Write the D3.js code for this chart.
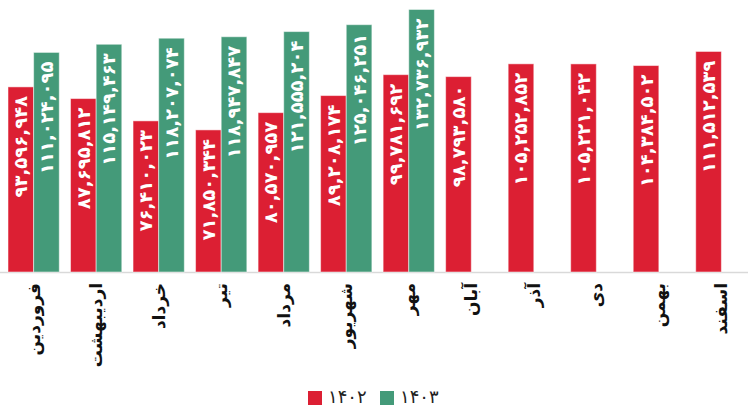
<!DOCTYPE html>
<html>
<head>
<meta charset="utf-8">
<script src="https://cdn.jsdelivr.net/npm/d3@7"></script>
<style>
  body { margin: 0; background: #fff; }
  svg { display: block; font-family: "DejaVu Sans", sans-serif; }
</style>
</head>
<body>
<div id="chart"></div>
<script>
// monthly values for two years (Persian calendar)
const months = ["فروردین", "اردیبهشت", "خرداد", "تیر", "مرداد", "شهریور",
    "مهر", "آبان", "آذر", "دی", "بهمن", "اسفند"];
const years = ["1402", "1403"];
const values1402 = [93596948, 87695812, 76410023, 71850344, 80570957, 89208174,
    99781692, 98793580, 105252852, 105221042, 104384502, 111512539];
const values1403 = [111024095, 115149463, 118207074, 118947847, 121555204, 125046251,
    132736932, null, null, null, null, null];

const colors = { "1402": "#dc1f33", "1403": "#449a79" };

const width = 748;
const height = 407;
const baseY = 272;

const faDigits = "۰۱۲۳۴۵۶۷۸۹";
const toFa = s => String(s).replace(/\d/g, d => faDigits[+d]);
const fmt = d3.format(",");

const rows = [];
months.forEach((m, i) => {
    rows.push({ month: m, year: "1402", value: values1402[i] });
    if (values1403[i] !== null) rows.push({ month: m, year: "1403", value: values1403[i] });
});

const svg = d3.select("#chart")
    .append("svg")
    .attr("width", width)
    .attr("height", height);

const x = d3.scaleBand()
    .domain(months)
    .range([8, 747])
    .paddingInner(0.18)
    .paddingOuter(0);

const xs = d3.scaleBand()
    .domain(years)
    .range([0, x.bandwidth()]);

const y = d3.scaleLinear()
    .domain([0, 135000000])
    .range([baseY, 5]);

// baseline
svg.append("line")
    .attr("x1", 0).attr("x2", width)
    .attr("y1", baseY + 0.5).attr("y2", baseY + 0.5)
    .attr("stroke", "#d9d9d9")
    .attr("stroke-width", 1.5);

const bars = svg.selectAll(".bar")
    .data(rows)
    .enter().append("g")
    .attr("class", "bar")
    .attr("transform", d => `translate(${x(d.month) + xs(d.year)},0)`);

bars.append("rect")
    .attr("y", d => y(d.value))
    .attr("width", xs.bandwidth())
    .attr("height", d => baseY - y(d.value))
    .attr("fill", d => colors[d.year])
    .attr("stroke", "rgba(255,255,255,0.5)")
    .attr("stroke-width", 1);

// value labels inside bars
bars.append("text")
    .attr("transform", d => `translate(${xs.bandwidth() / 2},${y(d.value) + 9}) rotate(-90)`)
    .attr("text-anchor", "end")
    .attr("dy", "0.36em")
    .attr("fill", "#fff")
    .style("font-size", "18px")
    .style("font-weight", "bold")
    .style("letter-spacing", "1px")
    .text(d => toFa(fmt(d.value)));

// month labels
svg.append("g")
    .selectAll("text")
    .data(months)
    .enter().append("text")
    .attr("transform", d => `translate(${x(d) + x.bandwidth() / 2},283) rotate(-90)`)
    .attr("text-anchor", "end")
    .attr("dy", "0.36em")
    .attr("fill", "#111")
    .style("font-size", "17px")
    .style("font-weight", "bold")
    .text(d => d);

// legend
const legend = svg.append("g").attr("transform", "translate(308,389)");
const legendX = [0, 72];
years.forEach((yr, i) => {
    const g = legend.append("g").attr("transform", `translate(${legendX[i]},0)`);
    g.append("rect")
        .attr("width", 14).attr("height", 14)
        .attr("y", 2)
        .attr("fill", colors[yr]);
    g.append("text")
        .attr("x", 20).attr("y", 8)
        .attr("dy", "0.36em")
        .attr("fill", "#222")
        .style("font-size", "18px")
        .text(toFa(yr));
});
</script>
</body>
</html>
